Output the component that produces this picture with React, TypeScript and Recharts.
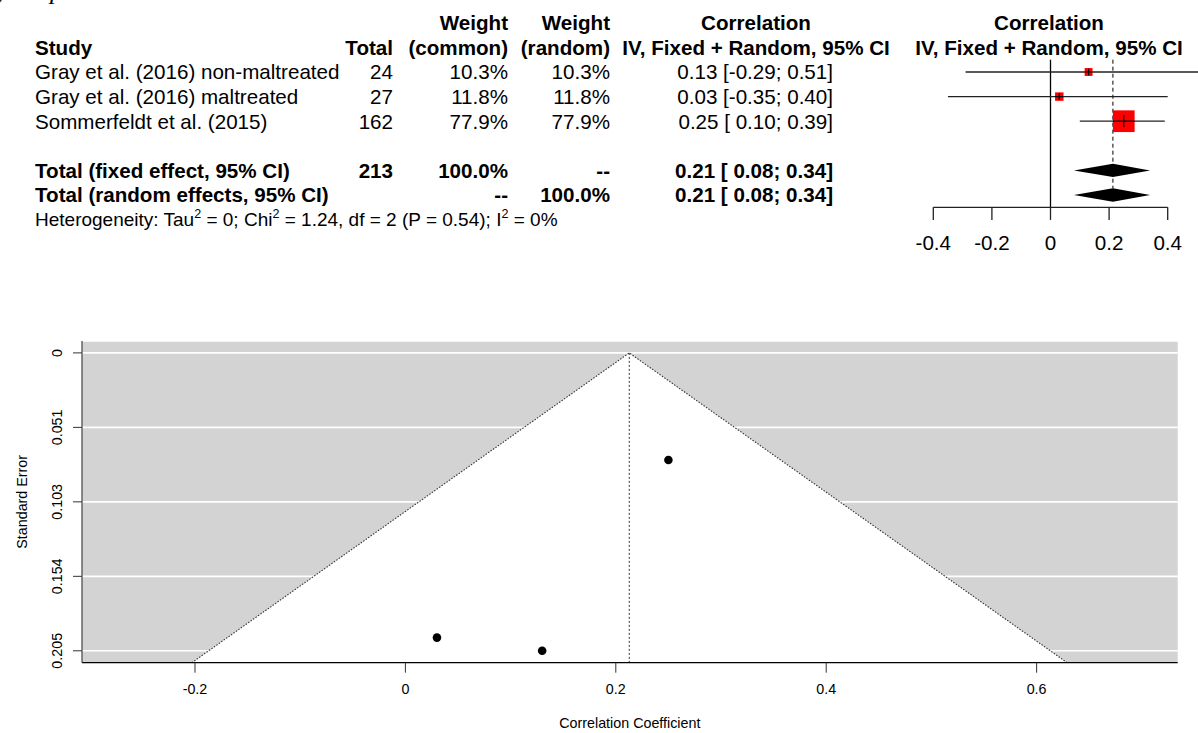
import React from 'react';
import {
  CartesianGrid,
  ComposedChart,
  Label,
  ReferenceArea,
  ReferenceLine,
  Scatter,
  XAxis,
  YAxis,
} from 'recharts';

// study level values
const studyLabels = [
  'Gray et al. (2016) non-maltreated',
  'Gray et al. (2016) maltreated',
  'Sommerfeldt et al. (2015)',
];
const studyTotals = [24, 27, 162];
const weightCommon = [10.3, 11.8, 77.9];
const weightRandom = [10.3, 11.8, 77.9];
const studyEstimates = [0.13, 0.03, 0.25];
const studyLower = [-0.29, -0.35, 0.1];
const studyUpper = [0.51, 0.4, 0.39];
const studySE = [0.2054, 0.1963, 0.0738];

// pooled rows
const pooledLabels = ['Total (fixed effect, 95% CI)', 'Total (random effects, 95% CI)'];
const pooledTotals = ['213', ''];
const pooledWeightCommon = ['100.0%', '--'];
const pooledWeightRandom = ['--', '100.0%'];
const pooledEstimates = [0.213, 0.213];
const pooledLower = [0.08, 0.08];
const pooledUpper = [0.34, 0.34];

// heterogeneity
const hetTau2 = 0;
const hetChi2 = 1.24;
const hetDf = 2;
const hetP = 0.54;
const hetI2 = 0;

// axes
const forestTicks = [-0.4, -0.2, 0, 0.2, 0.4];
const ccTicks = [-0.2, 0, 0.2, 0.4, 0.6];
const seTicks = [0, 0.05135, 0.1027, 0.15405, 0.2054];
const seTickLabels = ['0', '0.051', '0.103', '0.154', '0.205'];
const funnelCenter = 0.2128;
const funnelLower = -0.203;
const funnelUpper = 0.629;

const FONT = '"Liberation Sans", Arial, Helvetica, sans-serif';
const TABLE_FS = 20.6;
const HET_FS = 19;
const SMALL_FS = 14.3;

// table row index -> drawn via y axis ticks
const studyRows = [1, 2, 3];
const pooledRows = [5, 6];
const tableTicks = [-1, 0, 1, 2, 3, 5, 6, 7];

const studyData = studyLabels.map((_, i) => ({
  x: studyEstimates[i],
  y: studyRows[i],
  w: weightCommon[i],
}));
const funnelData = studyLabels.map((_, i) => ({ x: studyEstimates[i], y: studySE[i] }));

function pad(v: number) {
  return v < 0 ? v.toFixed(2) : ' ' + v.toFixed(2);
}
function ciText(est: number, lo: number, hi: number) {
  return `${est.toFixed(2)} [${pad(lo)}; ${hi.toFixed(2)}]`;
}

type Cell = { t: string; x: number; a: 'start' | 'middle' | 'end' };

function rowCells(row: number): { cells: Cell[]; bold: boolean } | null {
  if (row === -1) {
    return {
      bold: true,
      cells: [
        { t: 'Weight', x: 508, a: 'end' },
        { t: 'Weight', x: 610, a: 'end' },
        { t: 'Correlation', x: 756, a: 'middle' },
        { t: 'Correlation', x: 1049, a: 'middle' },
      ],
    };
  }
  if (row === 0) {
    return {
      bold: true,
      cells: [
        { t: 'Study', x: 35, a: 'start' },
        { t: 'Total', x: 393, a: 'end' },
        { t: '(common)', x: 508, a: 'end' },
        { t: '(random)', x: 610, a: 'end' },
        { t: 'IV, Fixed + Random, 95% CI', x: 756, a: 'middle' },
        { t: 'IV, Fixed + Random, 95% CI', x: 1049, a: 'middle' },
      ],
    };
  }
  const si = studyRows.indexOf(row);
  if (si >= 0) {
    return {
      bold: false,
      cells: [
        { t: studyLabels[si], x: 35, a: 'start' },
        { t: String(studyTotals[si]), x: 393, a: 'end' },
        { t: `${weightCommon[si].toFixed(1)}%`, x: 508, a: 'end' },
        { t: `${weightRandom[si].toFixed(1)}%`, x: 610, a: 'end' },
        { t: ciText(studyEstimates[si], studyLower[si], studyUpper[si]), x: 833, a: 'end' },
      ],
    };
  }
  const pi = pooledRows.indexOf(row);
  if (pi >= 0) {
    return {
      bold: true,
      cells: [
        { t: pooledLabels[pi], x: 35, a: 'start' },
        { t: pooledTotals[pi], x: 393, a: 'end' },
        { t: pooledWeightCommon[pi], x: 508, a: 'end' },
        { t: pooledWeightRandom[pi], x: 610, a: 'end' },
        { t: ciText(pooledEstimates[pi], pooledLower[pi], pooledUpper[pi]), x: 833, a: 'end' },
      ],
    };
  }
  return null;
}

function TableRow(props: any) {
  const { y, payload } = props;
  const row = payload.value as number;
  if (row === 7) {
    const sup = 0.66 * HET_FS;
    const up = -0.42 * HET_FS;
    return (
      <text
        x={35}
        y={y + 0.36 * HET_FS}
        fontSize={HET_FS}
        fontFamily={FONT}
        fill="#000"
        style={{ whiteSpace: 'pre' }}
      >
        <tspan>Heterogeneity: Tau</tspan>
        <tspan dy={up} fontSize={sup}>2</tspan>
        <tspan dy={-up}>{` = ${hetTau2}; Chi`}</tspan>
        <tspan dy={up} fontSize={sup}>2</tspan>
        <tspan dy={-up}>{` = ${hetChi2.toFixed(2)}, df = ${hetDf} (P = ${hetP.toFixed(2)}); I`}</tspan>
        <tspan dy={up} fontSize={sup}>2</tspan>
        <tspan dy={-up}>{` = ${hetI2}%`}</tspan>
      </text>
    );
  }
  const r = rowCells(row);
  if (!r) return <g />;
  return (
    <g>
      {r.cells.map((c, i) => (
        <text
          key={i}
          x={c.x}
          y={y + 0.36 * TABLE_FS}
          textAnchor={c.a}
          fontSize={TABLE_FS}
          fontFamily={FONT}
          fontWeight={r.bold ? 'bold' : 'normal'}
          fill="#000"
          style={{ whiteSpace: 'pre' }}
        >
          {c.t}
        </text>
      ))}
    </g>
  );
}

function StudySquare(props: any) {
  const { cx, cy, payload } = props;
  const s = 2.46 * Math.sqrt(payload.w);
  const t = Math.min(s * 0.4, 6);
  return (
    <g>
      <rect x={cx - s / 2} y={cy - s / 2} width={s} height={s} fill="#ff0000" />
      <line x1={cx - s / 2} x2={cx + s / 2} y1={cy} y2={cy} stroke="#000" strokeWidth={1.2} />
      <line x1={cx} x2={cx} y1={cy - t} y2={cy + t} stroke="#000" strokeWidth={1.2} />
    </g>
  );
}

function diamondShape(frac: number) {
  return (p: any) => {
    const { x, y, width, height } = p;
    const mx = x + width * frac;
    return (
      <polygon
        points={`${x},${y + height / 2} ${mx},${y} ${x + width},${y + height / 2} ${mx},${y + height}`}
        fill="#000"
      />
    );
  };
}

function ForestPlot() {
  return (
    <ComposedChart width={1198} height={258} margin={{ top: 59.7, right: 30.3, bottom: 0, left: 0 }}>
      <XAxis
        type="number"
        dataKey="x"
        domain={[-0.4, 0.4]}
        allowDataOverflow
        ticks={forestTicks}
        interval={0}
        height={50.7}
        tickSize={12.6}
        tickMargin={15.9}
        axisLine={{ stroke: '#222', strokeWidth: 1.3 }}
        tickLine={{ stroke: '#222', strokeWidth: 1.3 }}
        tick={{ fill: '#000', fontSize: TABLE_FS, fontFamily: FONT }}
      />
      <YAxis
        type="number"
        dataKey="y"
        domain={[0.5, 6.5]}
        reversed
        allowDataOverflow
        ticks={tableTicks}
        interval={0}
        width={933.3}
        axisLine={false}
        tickLine={false}
        tick={(p: any) => <TableRow {...p} />}
      />
      <ReferenceLine x={0} stroke="#000" strokeWidth={1.3} />
      <ReferenceLine
        segment={[
          { x: pooledEstimates[0], y: 0.5 },
          { x: pooledEstimates[0], y: pooledRows[1] - 0.27 },
        ]}
        stroke="#000"
        strokeDasharray="4 3"
        ifOverflow="visible"
      />
      {studyRows.map((row, i) => (
        <ReferenceLine
          key={`ci-${i}`}
          segment={[
            { x: studyLower[i], y: row },
            { x: studyUpper[i], y: row },
          ]}
          stroke="#222"
          strokeWidth={1.3}
          ifOverflow="visible"
        />
      ))}
      {pooledRows.map((row, i) => (
        <ReferenceArea
          key={`dia-${i}`}
          x1={pooledLower[i]}
          x2={pooledUpper[i]}
          y1={row - 0.27}
          y2={row + 0.27}
          ifOverflow="visible"
          shape={diamondShape((pooledEstimates[i] - pooledLower[i]) / (pooledUpper[i] - pooledLower[i]))}
        />
      ))}
      <Scatter data={studyData} shape={(p: any) => <StudySquare {...p} />} isAnimationActive={false} />
    </ComposedChart>
  );
}

function SeTick(props: any) {
  const { y, index } = props;
  const bx = 61.8;
  return (
    <text
      x={bx}
      y={y}
      transform={`rotate(-90, ${bx}, ${y})`}
      textAnchor="middle"
      fontSize={SMALL_FS}
      fontFamily={FONT}
      fill="#000"
    >
      {seTickLabels[index]}
    </text>
  );
}

function funnelShape(frac: number) {
  return (p: any) => {
    const { x, y, width, height } = p;
    const ax = x + width * frac;
    return (
      <g>
        <polygon points={`${x},${y + height} ${ax},${y} ${x + width},${y + height}`} fill="#fff" />
        <path
          d={`M${x},${y + height} L${ax},${y} L${x + width},${y + height}`}
          fill="none"
          stroke="#333"
          strokeWidth={1.1}
          strokeDasharray="1.5 1.5"
        />
      </g>
    );
  };
}

function FunnelPlot() {
  return (
    <ComposedChart width={1198} height={403} margin={{ top: 11, right: 20.3, bottom: 0, left: 0 }}>
      <CartesianGrid vertical={false} fill="#d3d3d3" fillOpacity={1} stroke="#ffffff" strokeWidth={1.6} />
      <XAxis
        type="number"
        dataKey="x"
        domain={[-0.3074, 0.7341]}
        allowDataOverflow
        ticks={ccTicks}
        interval={0}
        height={70.3}
        tickSize={10}
        tickMargin={11.3}
        axisLine={{ stroke: '#000', strokeWidth: 1.2 }}
        tickLine={{ stroke: '#333', strokeWidth: 1 }}
        tick={{ fill: '#000', fontSize: SMALL_FS, fontFamily: FONT }}
      >
        <Label
          content={(p: any) => {
            const vb = p.viewBox;
            return (
              <text
                x={vb.x + vb.width / 2}
                y={vb.y + 65.3}
                textAnchor="middle"
                fontSize={SMALL_FS}
                fontFamily={FONT}
                fill="#000"
              >
                Correlation Coefficient
              </text>
            );
          }}
        />
      </XAxis>
      <YAxis
        type="number"
        dataKey="y"
        domain={[-0.0082, 0.2136]}
        reversed
        allowDataOverflow
        ticks={seTicks}
        interval={0}
        width={82}
        tickSize={9}
        axisLine={{ stroke: '#444', strokeWidth: 1.2 }}
        tickLine={{ stroke: '#333', strokeWidth: 1 }}
        tick={(p: any) => <SeTick {...p} />}
      >
        <Label
          content={(p: any) => {
            const vb = p.viewBox;
            const bx = 26.8;
            const cy = vb.y + vb.height / 2;
            return (
              <text
                x={bx}
                y={cy}
                transform={`rotate(-90, ${bx}, ${cy})`}
                textAnchor="middle"
                fontSize={SMALL_FS}
                fontFamily={FONT}
                fill="#000"
              >
                Standard Error
              </text>
            );
          }}
        />
      </YAxis>
      <ReferenceArea
        x1={funnelLower}
        x2={funnelUpper}
        y1={0}
        y2={0.2136}
        ifOverflow="visible"
        shape={funnelShape((funnelCenter - funnelLower) / (funnelUpper - funnelLower))}
      />
      <ReferenceLine
        segment={[
          { x: funnelCenter, y: 0 },
          { x: funnelCenter, y: 0.2136 },
        ]}
        stroke="#333"
        strokeDasharray="2 2"
        ifOverflow="visible"
      />
      <Scatter
        data={funnelData}
        shape={(p: any) => <circle cx={p.cx} cy={p.cy} r={4.3} fill="#000" />}
        isAnimationActive={false}
      />
    </ComposedChart>
  );
}

export default function App() {
  return (
    <div
      style={{
        position: 'absolute',
        left: 0,
        top: 0,
        width: 1198,
        height: 733,
        background: '#fff',
        fontFamily: FONT,
        overflow: 'hidden',
      }}
    >
      <svg width={120} height={10} style={{ position: 'absolute', left: 0, top: 0 }}>
        <text x={-3} y={-1} fontSize={26} fontStyle="italic" fontFamily='"Liberation Serif", serif' fill="#000">
          y
        </text>
        <text x={50} y={-1} fontSize={26} fontStyle="italic" fontFamily='"Liberation Serif", serif' fill="#000">
          p
        </text>
      </svg>
      <div style={{ position: 'absolute', left: 0, top: 0 }}>
        <ForestPlot />
      </div>
      <div style={{ position: 'absolute', left: 0, top: 330 }}>
        <FunnelPlot />
      </div>
    </div>
  );
}
